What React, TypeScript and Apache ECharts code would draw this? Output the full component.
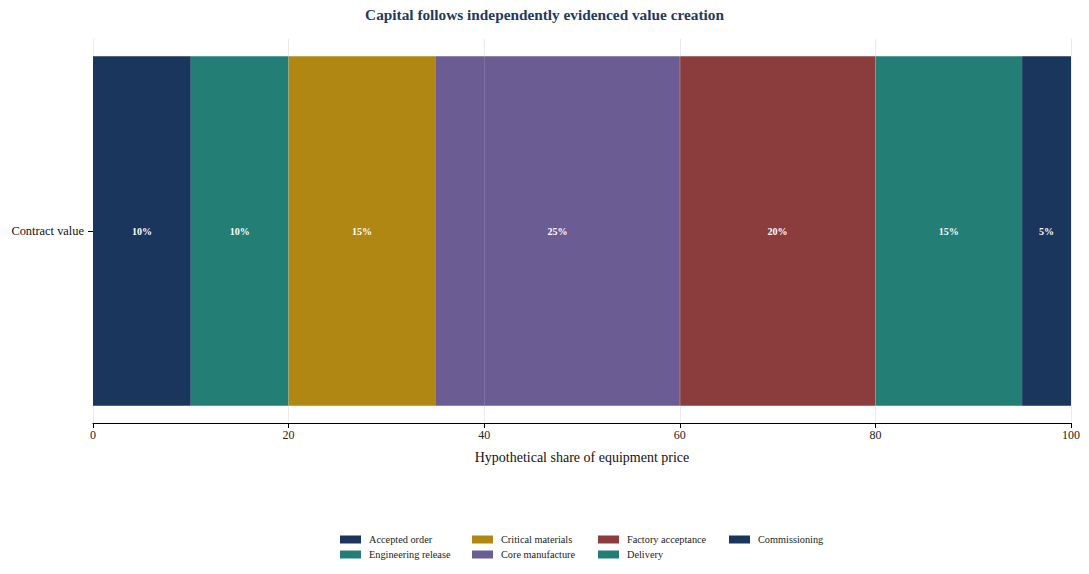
import React, { useEffect, useRef } from "react";
import * as echarts from "echarts";

const categories = ["Contract value"];
const stageNames = [
  "Accepted order",
  "Engineering release",
  "Critical materials",
  "Core manufacture",
  "Factory acceptance",
  "Delivery",
  "Commissioning",
];
const stageValues = [10, 10, 15, 25, 20, 15, 5];
const stageColors = ["#1b365d", "#237e76", "#b08713", "#6b5c93", "#8b3d3e", "#237e76", "#1b365d"];
const xTicks = [0, 20, 40, 60, 80, 100];

const FONT = "'Liberation Serif', 'Times New Roman', serif";

export default function App() {
  const ref = useRef<HTMLDivElement>(null);
  useEffect(() => {
    document.body.style.margin = "0";
    if (!ref.current) return;
    const chart = echarts.init(ref.current, null, { renderer: "svg" });
    const series: any[] = stageNames.map((name, i) => ({
      name,
      type: "bar",
      stack: "total",
      barWidth: "91%",
      data: [stageValues[i]],
      itemStyle: { color: stageColors[i] },
      label: {
        show: true,
        position: "inside",
        formatter: "{c}%",
        color: "#ffffff",
        fontWeight: "bold",
        fontSize: 10,
        fontFamily: FONT,
      },
    }));
    series.push({
      type: "line",
      data: [],
      silent: true,
      markLine: {
        silent: true,
        symbol: "none",
        label: { show: false },
        lineStyle: { color: "rgba(235,235,235,0.15)", type: "solid", width: 1 },
        data: xTicks.slice(1, -1).map((v) => ({ xAxis: v })),
      },
      z: 10,
    });
    const legendCols = [
      [stageNames[0], stageNames[1]],
      [stageNames[2], stageNames[3]],
      [stageNames[4], stageNames[5]],
      [stageNames[6]],
    ];
    const legendLeft = [340, 472, 598, 729];
    chart.setOption({
      animation: false,
      textStyle: { fontFamily: FONT },
      title: {
        text: "Capital follows independently evidenced value creation",
        left: "center",
        top: 2,
        textStyle: { fontSize: 15.3, fontWeight: "bold", color: "#1f3a5f", fontFamily: FONT },
      },
      legend: legendCols.map((d, i) => ({
        data: d,
        orient: "vertical",
        left: legendLeft[i],
        top: 534,
        height: 40,
        itemWidth: 21,
        itemHeight: 8,
        itemGap: 4,
        icon: "rect",
        padding: 0,
        textStyle: { fontSize: 10.3, color: "#222", fontFamily: FONT, padding: [0, 0, 0, 3], lineHeight: 11 },
      })),
      grid: { left: 93, right: 18, top: 39, bottom: 151, containLabel: false },
      xAxis: {
        type: "value",
        min: 0,
        max: 100,
        interval: 20,
        name: "Hypothetical share of equipment price",
        nameLocation: "middle",
        nameGap: 27,
        nameTextStyle: { fontSize: 14, color: "#111", fontFamily: FONT },
        axisLine: { show: true, lineStyle: { color: "#000", width: 1 } },
        axisTick: { show: true, length: 5, lineStyle: { color: "#000" } },
        axisLabel: { fontSize: 12, color: "#222", fontFamily: FONT, margin: 6 },
        splitLine: { show: true, lineStyle: { color: "#ebebeb", width: 1 } },
      },
      yAxis: {
        type: "category",
        data: categories,
        axisLine: { show: false },
        axisTick: { show: true, alignWithLabel: true, length: 5, lineStyle: { color: "#000" } },
        axisLabel: { fontSize: 12.4, color: "#111", fontFamily: FONT, margin: 9 },
      },
      series,
    });
    return () => chart.dispose();
  }, []);
  return <div ref={ref} style={{ width: 1089, height: 574 }} />;
}
